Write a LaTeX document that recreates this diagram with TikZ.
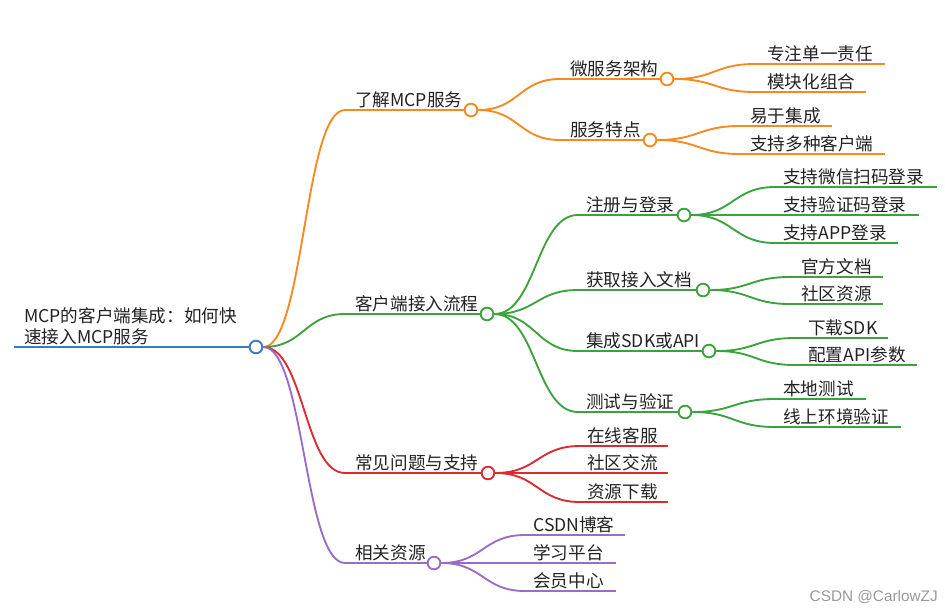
\documentclass[tikz,border=0pt]{standalone}
\usepackage{fontspec}
\setmainfont{Noto Sans CJK SC}
\newfontfamily\wmfont{Liberation Sans}
\usetikzlibrary{calc}
\pgfdeclarelayer{bg}
\pgfsetlayers{bg,main}
\definecolor{cblue}{HTML}{3A7BBF}
\definecolor{corange}{HTML}{F7891F}
\definecolor{cgreen}{HTML}{3DA23D}
\definecolor{cred}{HTML}{D92B30}
\definecolor{cpurple}{HTML}{9B6CC6}
\definecolor{ctext}{HTML}{222222}
\newcommand\leaf[7]{%
  \coordinate (#1-s) at (#4,#5);
  \coordinate (#1-e) at (#6,#5);
  \node[lbl] (#1) at (#3,#5-3.5) {#7};
  \begin{pgfonlayer}{bg}\draw[ln,#2] (#1-s) -- (#1-e);\end{pgfonlayer}}
\newcommand\hub[7]{%
  \coordinate (#1-s) at (#4,#5);
  \node[dot,draw=#2] (#1-c) at (#6,#5) {};
  \node[lbl] (#1) at (#3,#5-3.5) {#7};
  \begin{pgfonlayer}{bg}\draw[ln,#2] (#1-s) -- (#1-c.center);\end{pgfonlayer}}
\newcommand\conn[3]{%
  \begin{pgfonlayer}{bg}\draw[ln,#1] let \p1=(#2.east), \p2=(#3) in
  (#2.east) .. controls ({(\x1+\x2)/2},\y1) and ({(\x1+\x2)/2},\y2) .. (#3);\end{pgfonlayer}}
\begin{document}
\begin{tikzpicture}[x=0.75pt,y=-0.75pt,
  lbl/.style={anchor=base west,inner sep=0pt,text=ctext,font=\fontsize{13.2}{16}\selectfont},
  ln/.style={line width=1.4pt},
  dot/.style={circle,fill=white,line width=1.4pt,minimum size=9.5pt,inner sep=0pt}]
\useasboundingbox (0,0) rectangle (945,611);
% root
\coordinate (r0) at (14,347);
\node[dot,draw=cblue] (rc) at (256,347) {};
\begin{pgfonlayer}{bg}\draw[ln,cblue] (r0) -- (rc.center);\end{pgfonlayer}
\node[lbl] (rt1) at (24,322) {MCP的客户端集成：如何快};
\node[lbl] (rt2) at (24,343) {速接入MCP服务};
% branch 1
\hub{b1}{corange}{355}{345}{110}{471}{了解MCP服务}
\conn{corange}{rc}{b1-s}
\hub{c11}{corange}{570}{560}{79}{667}{微服务架构}
\conn{corange}{b1-c}{c11-s}
\leaf{g111}{corange}{767}{755}{64}{885}{专注单一责任}
\conn{corange}{c11-c}{g111-s}
\leaf{g112}{corange}{767}{755}{92}{866}{模块化组合}
\conn{corange}{c11-c}{g112-s}
\hub{c12}{corange}{570}{560}{140}{650}{服务特点}
\conn{corange}{b1-c}{c12-s}
\leaf{g121}{corange}{750}{740}{126}{832}{易于集成}
\conn{corange}{c12-c}{g121-s}
\leaf{g122}{corange}{750}{740}{154}{885}{支持多种客户端}
\conn{corange}{c12-c}{g122-s}
% branch 2
\hub{b2}{cgreen}{355}{345}{314}{487}{客户端接入流程}
\conn{cgreen}{rc}{b2-s}
\hub{c21}{cgreen}{586}{578}{215}{684}{注册与登录}
\conn{cgreen}{b2-c}{c21-s}
\leaf{g211}{cgreen}{783}{775}{187}{937}{支持微信扫码登录}
\conn{cgreen}{c21-c}{g211-s}
\leaf{g212}{cgreen}{783}{775}{215}{919}{支持验证码登录}
\conn{cgreen}{c21-c}{g212-s}
\leaf{g213}{cgreen}{783}{775}{243}{898}{支持APP登录}
\conn{cgreen}{c21-c}{g213-s}
\hub{c22}{cgreen}{586}{578}{290}{703}{获取接入文档}
\conn{cgreen}{b2-c}{c22-s}
\leaf{g221}{cgreen}{801}{790}{277}{883}{官方文档}
\conn{cgreen}{c22-c}{g221-s}
\leaf{g222}{cgreen}{801}{790}{304}{883}{社区资源}
\conn{cgreen}{c22-c}{g222-s}
\hub{c23}{cgreen}{586}{578}{351}{709}{集成SDK或API}
\conn{cgreen}{b2-c}{c23-s}
\leaf{g231}{cgreen}{808}{795}{338}{888}{下载SDK}
\conn{cgreen}{c23-c}{g231-s}
\leaf{g232}{cgreen}{808}{795}{365}{917}{配置API参数}
\conn{cgreen}{c23-c}{g232-s}
\hub{c24}{cgreen}{586}{578}{412}{685}{测试与验证}
\conn{cgreen}{b2-c}{c24-s}
\leaf{g241}{cgreen}{783}{775}{399}{866}{本地测试}
\conn{cgreen}{c24-c}{g241-s}
\leaf{g242}{cgreen}{783}{775}{427}{901}{线上环境验证}
\conn{cgreen}{c24-c}{g242-s}
% branch 3
\hub{b3}{cred}{355}{345}{473}{488}{常见问题与支持}
\conn{cred}{rc}{b3-s}
\leaf{g31}{cred}{587}{580}{446}{668}{在线客服}
\conn{cred}{b3-c}{g31-s}
\leaf{g32}{cred}{587}{580}{473}{668}{社区交流}
\conn{cred}{b3-c}{g32-s}
\leaf{g33}{cred}{587}{580}{502}{668}{资源下载}
\conn{cred}{b3-c}{g33-s}
% branch 4
\hub{b4}{cpurple}{355}{345}{563}{434}{相关资源}
\conn{cpurple}{rc}{b4-s}
\leaf{g41}{cpurple}{533}{525}{535}{625}{CSDN博客}
\conn{cpurple}{b4-c}{g41-s}
\leaf{g42}{cpurple}{533}{525}{563}{616}{学习平台}
\conn{cpurple}{b4-c}{g42-s}
\leaf{g43}{cpurple}{533}{525}{591}{616}{会员中心}
\conn{cpurple}{b4-c}{g43-s}
% watermark
\node[anchor=base east,inner sep=0pt,text=black!40,font=\wmfont\fontsize{11.5}{13}\selectfont] (wm) at (938,601) {CSDN @CarlowZJ};
\end{tikzpicture}
\end{document}
